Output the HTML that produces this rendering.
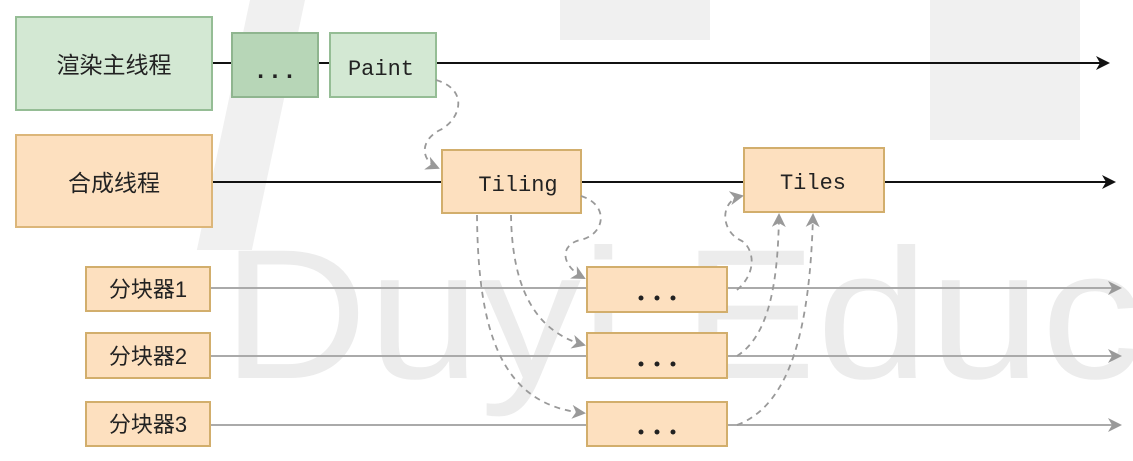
<!DOCTYPE html>
<html><head><meta charset="utf-8"><style>
html,body{margin:0;padding:0;background:#fff;}
svg{display:block;}
text{font-family:"Liberation Sans","Noto Sans CJK SC",sans-serif;}
.m{font-family:"Liberation Mono","DejaVu Sans Mono",monospace;}
</style></head><body>
<svg width="1133" height="461" viewBox="0 0 1133 461" xmlns="http://www.w3.org/2000/svg">
<defs>
<marker id="ab" markerWidth="14" markerHeight="14" refX="12" refY="7" orient="auto" markerUnits="userSpaceOnUse"><path d="M0,0 L14,7 L0,14 L4,7 Z" fill="#111"/></marker>
<marker id="ag" markerWidth="14" markerHeight="14" refX="12" refY="7" orient="auto" markerUnits="userSpaceOnUse"><path d="M0,0 L14,7 L0,14 L4,7 Z" fill="#999"/></marker>
</defs>
<!-- watermark -->
<text x="222" y="378" font-size="185" fill="#ececec" textLength="920" lengthAdjust="spacingAndGlyphs" style="font-family:'Liberation Sans',sans-serif">Duyi Educ</text>
<rect x="250" y="0" width="55" height="250" fill="#f0f0f0" transform="skewX(-12)"/>
<rect x="560" y="0" width="150" height="40" fill="#f0f0f0"/>
<rect x="930" y="0" width="150" height="140" fill="#f0f0f0"/>
<!-- main lines -->
<line x1="212" y1="63" x2="1108" y2="63" stroke="#111" stroke-width="2" marker-end="url(#ab)"/>
<line x1="212" y1="182" x2="1114" y2="182" stroke="#111" stroke-width="2" marker-end="url(#ab)"/>
<line x1="210" y1="288" x2="1120" y2="288" stroke="#aaa" stroke-width="2" marker-end="url(#ag)"/>
<line x1="210" y1="356" x2="1120" y2="356" stroke="#aaa" stroke-width="2" marker-end="url(#ag)"/>
<line x1="210" y1="425" x2="1120" y2="425" stroke="#aaa" stroke-width="2" marker-end="url(#ag)"/>
<!-- green boxes -->
<rect x="16" y="17" width="196" height="93" fill="#d3e8d3" stroke="#95bd95" stroke-width="2"/>
<text x="114" y="73" font-size="23" text-anchor="middle" fill="#222">渲染主线程</text>
<rect x="232" y="33" width="86" height="64" fill="#b7d6b7" stroke="#8fb58f" stroke-width="2"/>
<text x="275" y="78" font-size="24" text-anchor="middle" class="m" font-weight="bold" fill="#222">...</text>
<rect x="330" y="33" width="106" height="64" fill="#d3e8d3" stroke="#95bd95" stroke-width="2"/>
<text x="381" y="75" font-size="22" text-anchor="middle" class="m" fill="#222">Paint</text>
<!-- orange -->
<rect x="16" y="135" width="196" height="92" fill="#fde0bf" stroke="#dcb679" stroke-width="2"/>
<text x="114" y="191" font-size="23" text-anchor="middle" fill="#222">合成线程</text>
<rect x="442" y="150" width="139" height="63" fill="#fde0bf" stroke="#d2ae6c" stroke-width="2"/>
<text x="518" y="191" font-size="22" text-anchor="middle" class="m" fill="#222">Tiling</text>
<rect x="744" y="148" width="140" height="64" fill="#fde0bf" stroke="#d2ae6c" stroke-width="2"/>
<text x="813" y="189" font-size="22" text-anchor="middle" class="m" fill="#222">Tiles</text>
<g fill="#fde0bf" stroke="#d2ae6c" stroke-width="2">
<rect x="86" y="267" width="124" height="44"/>
<rect x="86" y="333" width="124" height="45"/>
<rect x="86" y="402" width="124" height="44"/>
<rect x="587" y="267" width="140" height="45"/>
<rect x="587" y="333" width="140" height="45"/>
<rect x="587" y="402" width="140" height="44"/>
</g>
<g font-size="22" fill="#222">
<text x="148" y="297" text-anchor="middle">分块器1</text>
<text x="148" y="364" text-anchor="middle">分块器2</text>
<text x="148" y="432" text-anchor="middle">分块器3</text>
</g>
<g fill="#222">
<circle cx="641" cy="298" r="2.5"/><circle cx="657" cy="298" r="2.5"/><circle cx="673" cy="298" r="2.5"/>
<circle cx="641" cy="364" r="2.5"/><circle cx="657" cy="364" r="2.5"/><circle cx="673" cy="364" r="2.5"/>
<circle cx="641" cy="432" r="2.5"/><circle cx="657" cy="432" r="2.5"/><circle cx="673" cy="432" r="2.5"/>
</g>
<!-- dashed connectors -->
<g fill="none" stroke="#999" stroke-width="1.8" stroke-dasharray="6,5">
<path d="M436,80 C470,90 460,120 440,130 C420,140 420,160 438,168" marker-end="url(#ag)"/>
<path d="M581,196 C610,205 605,235 580,240 C560,245 560,265 584,278" marker-end="url(#ag)"/>
<path d="M511,215 C512,280 530,330 584,345" marker-end="url(#ag)"/>
<path d="M477,215 C478,330 500,405 584,413" marker-end="url(#ag)"/>
<path d="M737,290 C760,270 752,245 740,240 C720,230 720,200 742,196" marker-end="url(#ag)"/>
<path d="M737,356 C770,335 778,280 779,215" marker-end="url(#ag)"/>
<path d="M737,425 C790,405 810,330 813,215" marker-end="url(#ag)"/>
</g>
</svg>
</body></html>
